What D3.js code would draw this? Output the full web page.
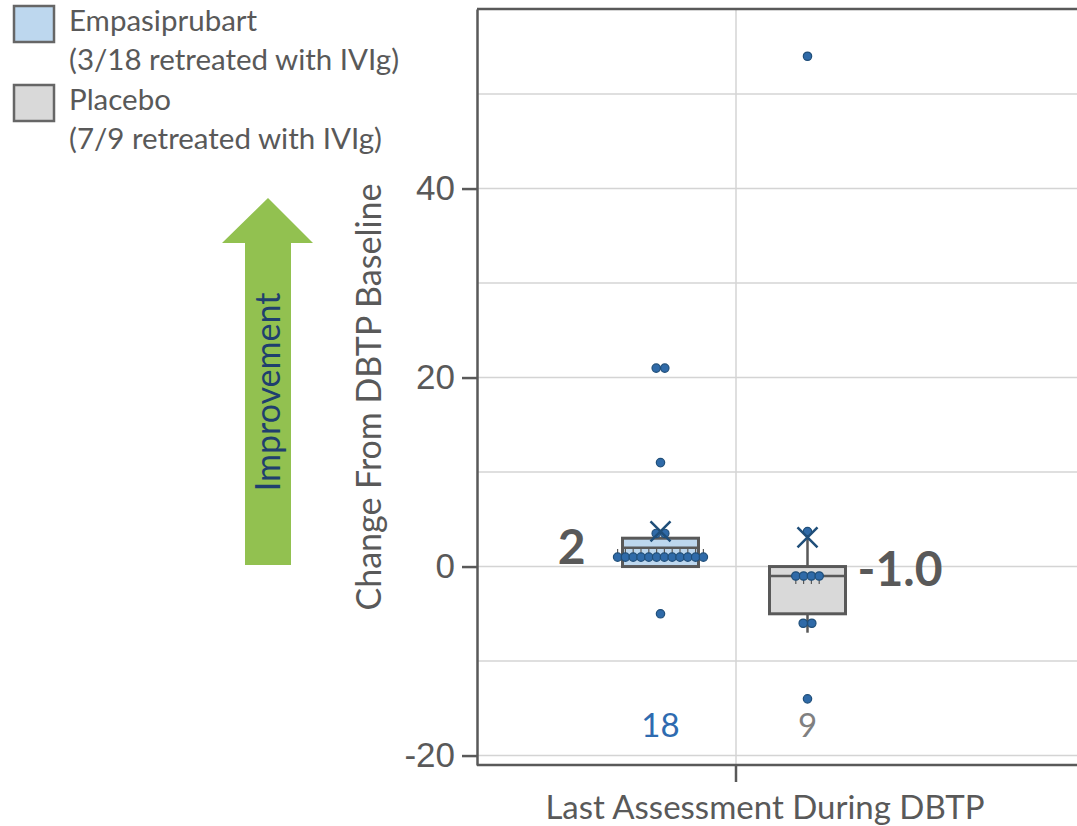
<!DOCTYPE html>
<html>
<head>
<meta charset="utf-8">
<script src="https://cdn.jsdelivr.net/npm/d3@7"></script>
<style>
  html, body { margin: 0; padding: 0; background: #ffffff; }
  svg { display: block; font-family: Lato, "Open Sans", "Liberation Sans", sans-serif; }
</style>
</head>
<body>
<svg id="chart" width="1077" height="826"></svg>
<script>
// ---- data ----
const categories = ["Last Assessment During DBTP"];
const groups = ["Empasiprubart", "Placebo"];
const legendNotes = ["(3/18 retreated with IVIg)", "(7/9 retreated with IVIg)"];
const groupCounts = [18, 9];

// individual patient changes from DBTP baseline
const empasiprubartValues = [-5, 1, 1, 1, 1, 1, 1, 1, 1, 1, 1, 1, 1, 3.5, 3.5, 11, 21, 21];
const placeboValues = [-14, -6, -6, -1, -1, -1, -1, 3.7, 54];

// box summaries: [whisker low, Q1, median, Q3, whisker high]
const empasiprubartBox = [0, 0, 2, 3, 3];
const placeboBox = [-7, -5, -1, 0, 3.7];

// median labels
const medianLabels = ["2", "-1.0"];

const yTicks = [-20, 0, 20, 40];
const yGrid = [-20, -10, 0, 10, 20, 30, 40, 50];
const yDomain = [-21, 59];

// ---- styling ----
const textGray = "#595959";
const gridGray = "#d4d4d4";
const boxFills = ["#bdd7ee", "#d9d9d9"];
const countColors = ["#2e6bb0", "#808080"];
const dotFill = "#2f6aa8";
const dotStroke = "#1f4e79";

const svg = d3.select("#chart");

const plot = { left: 477, top: 9, right: 1100, bottom: 765 };

const y = d3.scaleLinear().domain(yDomain).range([plot.bottom, plot.top]);
const xOuter = d3.scaleBand().domain(categories).range([477, 995]);
const catCenter = xOuter(categories[0]) + xOuter.bandwidth() / 2;
const xInner = d3.scaleBand().domain(groups).range([catCenter - 149, catCenter + 145]);
const boxW = 76;

const series = [
  { name: groups[0], values: empasiprubartValues, box: empasiprubartBox, n: groupCounts[0], label: medianLabels[0] },
  { name: groups[1], values: placeboValues, box: placeboBox, n: groupCounts[1], label: medianLabels[1] }
];

// gridlines
svg.append("g").selectAll("line").data(yGrid).join("line")
  .attr("x1", plot.left).attr("x2", plot.right)
  .attr("y1", d => y(d)).attr("y2", d => y(d))
  .attr("stroke", gridGray).attr("stroke-width", 1.5);
svg.append("line")
  .attr("x1", catCenter).attr("x2", catCenter)
  .attr("y1", plot.top).attr("y2", plot.bottom)
  .attr("stroke", gridGray).attr("stroke-width", 1.5);

// frame: top border
svg.append("line")
  .attr("x1", plot.left).attr("x2", plot.right)
  .attr("y1", plot.top).attr("y2", plot.top)
  .attr("stroke", textGray).attr("stroke-width", 2.5);

// y axis
const yAxis = svg.append("g")
  .attr("transform", `translate(${plot.left},0)`)
  .call(d3.axisLeft(y).tickValues(yTicks).tickSize(15).tickPadding(7).tickSizeOuter(0)
    .tickFormat(d => String(d)));
yAxis.select(".domain").attr("stroke", textGray).attr("stroke-width", 2.5);
yAxis.selectAll(".tick line").attr("stroke", textGray).attr("stroke-width", 2.5);
yAxis.selectAll(".tick text").attr("fill", textGray).style("font-size", "35px");

// x axis
const xAxis = svg.append("g")
  .attr("transform", `translate(0,${plot.bottom})`)
  .call(d3.axisBottom(xOuter).tickSize(17).tickSizeOuter(0).tickFormat(""));
xAxis.select(".domain").attr("stroke", textGray).attr("stroke-width", 2.5)
  .attr("d", `M${plot.left},0H${plot.right}`);
xAxis.selectAll(".tick line").attr("stroke", textGray).attr("stroke-width", 2.5);

svg.append("text")
  .attr("x", catCenter + 29).attr("y", 819)
  .attr("text-anchor", "middle").attr("fill", textGray)
  .style("font-size", "33px")
  .text(categories[0]);

// y axis title
svg.append("text")
  .attr("transform", `translate(381,397) rotate(-90)`)
  .attr("text-anchor", "middle").attr("fill", textGray)
  .style("font-size", "34px")
  .text("Change From DBTP Baseline");

// improvement arrow
const arrow = d3.path();
arrow.moveTo(268, 198);
arrow.lineTo(313, 243);
arrow.lineTo(291, 243);
arrow.lineTo(291, 565);
arrow.lineTo(245, 565);
arrow.lineTo(245, 243);
arrow.lineTo(222, 243);
arrow.closePath();
svg.append("path").attr("d", arrow.toString()).attr("fill", "#92c150");
svg.append("text")
  .attr("transform", `translate(280,392) rotate(-90)`)
  .attr("text-anchor", "middle").attr("fill", "#1f3f6e")
  .style("font-size", "34px")
  .text("Improvement");

// boxes
series.forEach((s, i) => {
  const cx = xInner(s.name) + xInner.bandwidth() / 2;
  const [wLo, q1, med, q3, wHi] = s.box;
  const g = svg.append("g");

  // whiskers
  g.append("line").attr("x1", cx).attr("x2", cx).attr("y1", y(q3)).attr("y2", y(wHi))
    .attr("stroke", textGray).attr("stroke-width", 2.5);
  g.append("line").attr("x1", cx).attr("x2", cx).attr("y1", y(q1)).attr("y2", y(wLo))
    .attr("stroke", textGray).attr("stroke-width", 2.5);

  g.append("rect")
    .attr("x", cx - boxW / 2).attr("width", boxW)
    .attr("y", y(q3)).attr("height", y(q1) - y(q3))
    .attr("fill", boxFills[i]).attr("stroke", textGray).attr("stroke-width", 3);
  g.append("line")
    .attr("x1", cx - boxW / 2).attr("x2", cx + boxW / 2)
    .attr("y1", y(med)).attr("y2", y(med))
    .attr("stroke", textGray).attr("stroke-width", 2.5);

  // individual points, spread sideways where values tie
  const bins = d3.groups(s.values, v => v);
  const pts = [];
  bins.forEach(([v, arr]) => {
    const k = arr.length;
    const step = k > 2 ? 7.8 : 8.6;
    arr.forEach((_, j) => pts.push({ v, dx: (j - (k - 1) / 2) * step, tied: k > 2 }));
  });

  // short stems on tied point rows
  const stemDir = i === 0 ? -1 : 1;
  g.selectAll("line.stem").data(pts.filter(p => p.tied)).join("line")
    .attr("class", "stem")
    .attr("x1", p => cx + p.dx).attr("x2", p => cx + p.dx)
    .attr("y1", p => y(p.v)).attr("y2", p => y(p.v) + stemDir * 8)
    .attr("stroke", textGray).attr("stroke-width", 1.2);

  g.selectAll("circle").data(pts).join("circle")
    .attr("cx", p => cx + p.dx).attr("cy", p => y(p.v))
    .attr("r", 4.2)
    .attr("fill", dotFill).attr("stroke", dotStroke).attr("stroke-width", 1.2);

  // mean marker
  const m = d3.mean(s.values);
  const my = y(m);
  g.append("path")
    .attr("d", `M${cx - 10},${my - 10}L${cx + 10},${my + 10}M${cx + 10},${my - 10}L${cx - 10},${my + 10}`)
    .attr("stroke", dotStroke).attr("stroke-width", 2.5).attr("fill", "none");

  // group count
  svg.append("text")
    .attr("x", cx).attr("y", 737)
    .attr("text-anchor", "middle").attr("fill", countColors[i])
    .style("font-size", "33px")
    .text(s.n);
});

// median labels
const c0 = xInner(groups[0]) + xInner.bandwidth() / 2;
const c1 = xInner(groups[1]) + xInner.bandwidth() / 2;
svg.append("text")
  .attr("x", c0 - boxW / 2 - 37).attr("y", y(empasiprubartBox[2]) + 16)
  .attr("text-anchor", "end").attr("fill", textGray)
  .style("font-size", "48px").style("font-weight", "bold")
  .text(medianLabels[0]);
svg.append("text")
  .attr("x", c1 + boxW / 2 + 12).attr("y", y(placeboBox[2]) + 10)
  .attr("text-anchor", "start").attr("fill", textGray)
  .style("font-size", "48px").style("font-weight", "bold")
  .text(medianLabels[1]);

// legend
const legend = svg.append("g");
groups.forEach((gname, i) => {
  const top = 6 + i * 79;
  legend.append("rect")
    .attr("x", 14).attr("y", top).attr("width", 40).attr("height", 36)
    .attr("fill", boxFills[i]).attr("stroke", "#666666").attr("stroke-width", 2.5);
  legend.append("text")
    .attr("x", 69).attr("y", top + 25)
    .attr("fill", textGray).style("font-size", "29.5px")
    .text(gname);
  legend.append("text")
    .attr("x", 69).attr("y", top + 64)
    .attr("fill", textGray).style("font-size", "29.5px")
    .text(legendNotes[i]);
});
</script>
</body>
</html>
